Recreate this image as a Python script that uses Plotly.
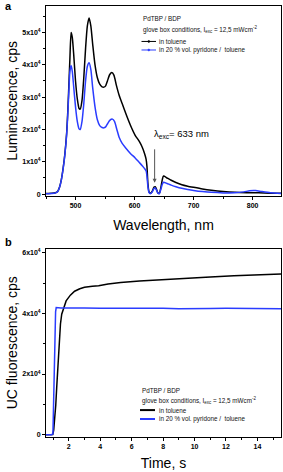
import plotly.graph_objects as go

# ---- panel a: luminescence spectra ----
wl_tol = [450, 460, 466, 470, 473, 476, 479, 482, 485, 487, 489, 490.5, 492.5, 494.5, 497, 500, 503, 506, 508,
          511, 514, 517, 520, 523, 526, 529, 533, 537, 541, 545, 548, 551, 554, 558, 561.5, 565, 569, 574,
          579, 585, 593, 601, 608, 613, 617, 619.5, 621, 622.5, 624.5, 627, 630, 633, 635, 637, 639.5, 642,
          644.5, 647, 649, 655, 662, 670, 680, 690, 700, 715, 730, 750, 770, 790, 810, 830, 848]
lum_tol = [200, 250, 450, 900, 2200, 4500, 8000, 12500, 19000, 26000, 35000, 42000, 50000, 48500, 43000, 35000, 29500, 26500, 26300,
           29000, 36000, 45000, 52000, 54500, 52000, 46500, 40000, 36000, 34000, 33200, 33100, 33500, 35000, 37000, 37600, 36800, 33800, 30500,
           28000, 25000, 21300, 18200, 16300, 14500, 12500, 10800, 8500, 3500, 700, 300, 900, 2200, 2300, 1600, 400, 250,
           2000, 4500, 5600, 5000, 4300, 3600, 2900, 2450, 2100, 1600, 1200, 800, 550, 450, 400, 300, 250]

wl_pyr = [450, 460, 466, 470, 473, 476, 479, 482, 485, 487, 489, 490.5, 492.5, 494.5, 497, 500, 503, 506, 508,
          511, 514, 517, 520, 523, 526, 529, 533, 537, 541, 545, 548, 551, 554, 558, 562.5, 566, 570, 574,
          579, 585, 593, 601, 608, 613, 617, 619.5, 621, 622.5, 624.5, 627, 630, 633, 635, 637, 639.5, 642,
          644.5, 647, 649, 655, 662, 670, 680, 690, 700, 715, 730, 750, 770, 785, 795, 805, 815, 830, 848]
lum_pyr = [150, 200, 400, 850, 2100, 4400, 7800, 12200, 18500, 25000, 33000, 38000, 39800, 38000, 33000, 27000, 22500, 20200, 20000,
           22500, 28000, 35000, 39500, 40600, 38500, 33000, 27000, 23000, 21200, 20600, 20500, 20800, 21700, 22800, 23200, 22500, 20000, 17500,
           15700, 14300, 12600, 11200, 9800, 8800, 7900, 7200, 5500, 2500, 500, 150, 700, 1800, 1900, 1300, 300, 150,
           1500, 3100, 3700, 3300, 2800, 2300, 1800, 1450, 1150, 800, 550, 380, 400, 700, 1050, 1100, 800, 400, 200]

# ---- panel b: UC fluorescence kinetics ----
t_tol = [0.55, 0.9, 0.98, 1.04, 1.1, 1.17, 1.23, 1.28, 1.34, 1.39, 1.47, 1.55, 1.7, 1.83, 2.1, 2.37, 2.7, 3.0, 3.5,
         3.9, 4.5, 5.3, 6.5, 8.0, 9.4, 11.0, 12.5, 14.0, 15.5]
uc_tol = [0, 0, 100, 1500, 5000, 9700, 15500, 20800, 27000, 31900, 36500, 39700, 42500, 44100, 46000, 47300, 48100, 48600, 48900,
          49100, 49700, 50200, 50700, 51200, 51700, 52000, 52400, 52700, 53000]

t_pyr = [0.55, 0.9, 0.99, 1.04, 1.08, 1.12, 1.16, 1.2, 1.5, 2.0, 3.0, 4.0, 5.0, 6.0, 7.0, 8.0, 9.0, 10.0, 11.0, 12.0,
         13.0, 14.0, 15.5]
uc_pyr = [0, 0, 300, 9000, 20000, 31000, 40500, 41900, 41800, 41700, 41750, 41650, 41700, 41600, 41700, 41650, 41550, 41700, 41600, 41650,
          41550, 41600, 41550]

# tick labels
yA_vals = [0, 10000, 20000, 30000, 40000, 50000]
yA_text = ["0", "1x10<sup>4</sup>", "2x10<sup>4</sup>", "3x10<sup>4</sup>", "4x10<sup>4</sup>", "5x10<sup>4</sup>"]
yB_vals = [0, 20000, 40000, 60000]
yB_text = ["0", "2x10<sup>4</sup>", "4x10<sup>4</sup>", "6x10<sup>4</sup>"]

BLACK = "#000000"
BLUE = "#2a3cff"
W, H = 283, 472
FONT = "Arial, Liberation Sans, sans-serif"


def px(x):
    return x / W


def py(y):
    return 1 - y / H


fig = go.Figure()
fig.add_trace(go.Scatter(x=wl_tol, y=lum_tol, mode="lines", line=dict(color=BLACK, width=1.5, shape="spline", smoothing=0.6),
                         name="in toluene", xaxis="x", yaxis="y", showlegend=False))
fig.add_trace(go.Scatter(x=wl_pyr, y=lum_pyr, mode="lines", line=dict(color=BLUE, width=1.5, shape="spline", smoothing=0.6),
                         name="in 20 % vol. pyridone /  toluene", xaxis="x", yaxis="y", showlegend=False))
fig.add_trace(go.Scatter(x=t_tol, y=uc_tol, mode="lines", line=dict(color=BLACK, width=1.5),
                         name="in toluene", xaxis="x2", yaxis="y2", showlegend=False))
fig.add_trace(go.Scatter(x=t_pyr, y=uc_pyr, mode="lines", line=dict(color=BLUE, width=1.5),
                         name="in 20 % vol. pyridone /  toluene", xaxis="x2", yaxis="y2", showlegend=False))

xdom = [px(46), px(281)]
domA = [py(196), py(5)]
domB = [py(438.5), py(249.3)]
xrA = [450, 848]
yrA = [-500, 58200]
xrB = [0.55, 15.5]
yrB = [-650, 61300]

tickfont = dict(family=FONT, size=7, color="black", weight="bold")
titlefont = dict(family=FONT, size=14, color="black")
common = dict(showline=True, linecolor="black", linewidth=1, mirror=True, showgrid=False, zeroline=False,
              ticks="outside", ticklen=3, tickwidth=1, tickcolor="black", tickfont=tickfont)
inner = dict(showline=False, showgrid=False, zeroline=False, ticks="inside", ticklen=3, tickwidth=1,
             tickcolor="black", showticklabels=False)

fig.update_layout(
    width=W, height=H, margin=dict(l=0, r=0, t=0, b=0),
    paper_bgcolor="white", plot_bgcolor="white", showlegend=False,
    xaxis=dict(domain=xdom, range=xrA, anchor="y", tickvals=[500, 600, 700, 800],
               minor=dict(tickvals=[450, 550, 650, 750], ticks="outside", ticklen=2, tickcolor="black"),
               title=dict(text="Wavelength, nm", font=titlefont, standoff=12), **common),
    yaxis=dict(domain=domA, range=yrA, anchor="x", tickvals=yA_vals, ticktext=yA_text,
               minor=dict(tickvals=[5000, 15000, 25000, 35000, 45000, 55000], ticks="outside", ticklen=2, tickcolor="black"),
               title=dict(text="Luminescence, cps", font=titlefont, standoff=1), **common),
    xaxis2=dict(domain=xdom, range=xrB, anchor="y2", tickvals=[2, 4, 6, 8, 10, 12, 14],
                minor=dict(tickvals=[1, 3, 5, 7, 9, 11, 13, 15], ticks="outside", ticklen=2, tickcolor="black"),
                title=dict(text="Time, s", font=titlefont, standoff=9), **common),
    yaxis2=dict(domain=domB, range=yrB, anchor="x2", tickvals=yB_vals, ticktext=yB_text,
                minor=dict(tickvals=[10000, 30000, 50000], ticks="outside", ticklen=2, tickcolor="black"),
                title=dict(text="UC fluorescence, cps", font=titlefont, standoff=1), **common),
    xaxis3=dict(overlaying="x", side="top", anchor="y", range=xrA, tickvals=[500, 600, 700, 800], **inner),
    yaxis3=dict(overlaying="y", side="right", anchor="x", range=yrA, tickvals=yA_vals, **inner),
    xaxis4=dict(overlaying="x2", side="top", anchor="y2", range=xrB, tickvals=[2, 4, 6, 8, 10, 12, 14], **inner),
    yaxis4=dict(overlaying="y2", side="right", anchor="x2", range=yrB, tickvals=yB_vals, **inner),
)

small = dict(family=FONT, size=6.3, color="#111111")


def label(x, y, text, font=small, xanchor="left"):
    fig.add_annotation(x=px(x), y=py(y), xref="paper", yref="paper", text=text, showarrow=False,
                       xanchor=xanchor, yanchor="middle", font=font)


# panel letters
label(3, 5, "a", dict(family=FONT, size=11, color="black", weight="bold"))
label(3, 243, "b", dict(family=FONT, size=11, color="black", weight="bold"))

# legend block panel a
label(140.5, 17.5, "PdTBP / BDP")
label(140.5, 28.5, "glove box conditions, I<sub>exc</sub> = 12,5 mWcm<sup>-2</sup>")
label(157, 40.7, "in toluene")
label(157, 49.3, "in 20 % vol. pyridone /  toluene")
for yy, col in [(40.7, BLACK), (49.3, BLUE)]:
    fig.add_shape(type="line", xref="paper", yref="paper", x0=px(141.5), x1=px(156), y0=py(yy), y1=py(yy),
                  line=dict(color=col, width=1))
    fig.add_shape(type="circle", xref="paper", yref="paper", x0=px(147.8), x1=px(149.8), y0=py(yy - 1), y1=py(yy + 1),
                  line=dict(color=col, width=0.5), fillcolor=col)

# legend block panel b
label(139.5, 392, "PdTBP / BDP")
label(139.5, 402, "glove box conditions, I<sub>exc</sub> = 12,5 mWcm<sup>-2</sup>")
label(157, 411.7, "in toluene")
label(157, 420.7, "in 20 % vol. pyridone /  toluene")
for yy, col in [(411.7, BLACK), (420.7, BLUE)]:
    fig.add_shape(type="line", xref="paper", yref="paper", x0=px(140), x1=px(155), y0=py(yy), y1=py(yy),
                  line=dict(color=col, width=2))

# excitation annotation
fig.add_annotation(x=634, y=3500, xref="x", yref="y", ax=0, ay=-35, text="", showarrow=True,
                   arrowhead=2, arrowsize=0.8, arrowwidth=1, arrowcolor="#555555")
fig.add_annotation(x=px(152), y=py(134), xref="paper", yref="paper", xanchor="left", yanchor="middle",
                   text="λ<sub>exc</sub>= 633 nm", showarrow=False, font=dict(family=FONT, size=9.5, color="black"))

fig.write_html("out.html", config={"displayModeBar": False},
               post_script="document.body.style.margin='0';document.body.style.overflow='hidden';")
